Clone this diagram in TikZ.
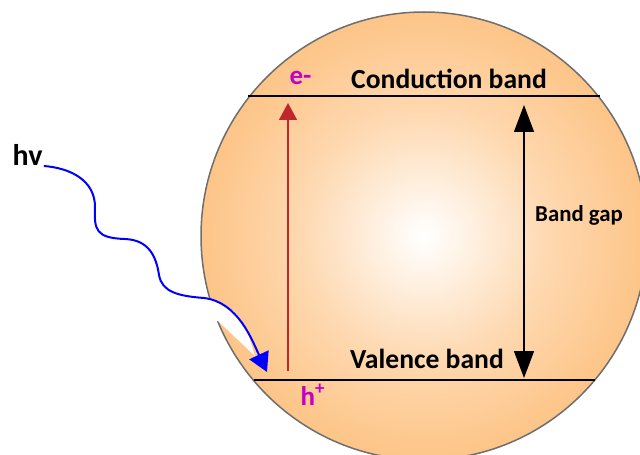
\documentclass[tikz,border=0pt]{standalone}
\usepackage{fontspec}
\setmainfont{Carlito}
\usetikzlibrary{arrows.meta}
\definecolor{grainorange}{RGB}{253,188,118}
\definecolor{grainrim}{HTML}{6E6E6E}
\definecolor{exred}{HTML}{C0272D}
\definecolor{carrier}{HTML}{C400C4}
\definecolor{photon}{HTML}{0000FF}
\pgfdeclareradialshading{grain}{\pgfpoint{0bp}{0bp}}{%
  color(0bp)=(white);
  color(3bp)=(grainorange!12!white);
  color(14bp)=(grainorange!58!white);
  color(26bp)=(grainorange!90!white);
  color(38bp)=(grainorange);
  color(50bp)=(grainorange)}

\begin{document}
\begin{tikzpicture}[
        x=0.5pt, y=-0.5pt,
        every node/.style={inner sep=0pt, anchor=base},
        band/.style={font=\fontsize{13.8}{16}\selectfont\bfseries},
        carr/.style={font=\fontsize{13.5}{16}\selectfont\bfseries, text=carrier},
        lvl/.style={draw=black, line width=1pt},
        excite/.style={-{Triangle[length=8.5pt, width=9pt]}, draw=exred, fill=exred, line width=0.75pt},
        gaparr/.style={{Triangle[length=13.5pt, width=10pt]}-{Triangle[length=13.5pt, width=10pt]}, draw=black, line width=0.75pt},
        wave/.style={-{Triangle[length=9.5pt, width=10.5pt]}, draw=photon, fill=photon, line width=1pt},
      ]
      \useasboundingbox (0,0) rectangle (640,454);
      \clip (0,0) rectangle (640,454);

      % particle
      \shadedraw[shading=grain, draw=grainrim, line width=0.75pt]
        (424,236) ellipse [x radius=223, y radius=224];
      % white notch left of the photon
      \fill[white] (190,293) -- (215,300) -- (235,312) -- (247,330) -- (253,350)
        -- (255,356) -- (218,321) -- (195,321) -- cycle;

      % band edges
      \coordinate (cbl) at (248,96);
      \coordinate (cbr) at (600,96);
      \coordinate (vbl) at (254,380);
      \coordinate (vbr) at (595,380);
      \draw[lvl] (cbl) -- (cbr);
      \draw[lvl] (vbl) -- (vbr);

      \node[band] (cb)  at (449,89)  {Conduction band};
      \node[band] (vb)  at (427,368) {Valence band};
      \node[font=\fontsize{11.4}{14}\selectfont\bfseries] (gap) at (579,221) {Band gap};
      \node[carr] (el)  at (300.5,85) {e-};
      \node[carr] (hole) at (313,405) {h\textsuperscript{+}};
      \node[font=\fontsize{15}{18}\selectfont\bfseries] (hv) at (27.5,165) {hv};

      % excitation and gap
      \coordinate (exlo) at (288,371);
      \coordinate (exhi) at (288,103);
      \draw[excite] (exlo) -- (exhi);
      \coordinate (gaptop) at (524,105);
      \coordinate (gapbot) at (524,378);
      \draw[gaparr] (gaptop) -- (gapbot);

      % photon
      \coordinate (hit) at (267,372);
      \draw[wave, fill=none] (hv.base east) ++(1,1)
        .. controls (70,168) and (95,180) .. (95,207)
        .. controls (94,230) and (96,238) .. (125,239)
        .. controls (148,240) and (156,255) .. (159,275)
        .. controls (162,292) and (178,296) .. (204,298)
        .. controls (238,302) and (252,340) .. (hit);
    \end{tikzpicture}
\end{document}
